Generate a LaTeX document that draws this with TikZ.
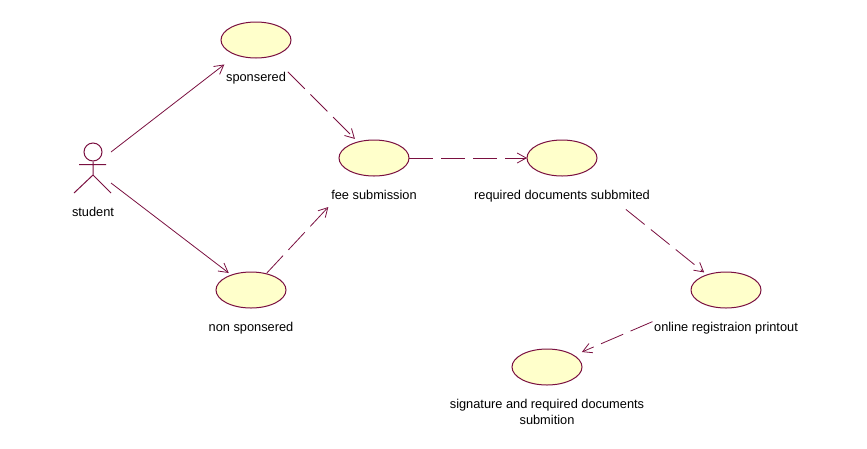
\documentclass[tikz,border=0pt]{standalone}
\usepackage{fontspec}
\setmainfont{Liberation Sans}
\usetikzlibrary{arrows.meta,positioning}
\definecolor{umlline}{RGB}{122,16,64}
\definecolor{umlfill}{RGB}{255,255,203}
\tikzset{
    usecase/.style={
           ellipse,
           draw=umlline, line width=1pt,
           fill=umlfill,
           minimum height=36pt,
           minimum width=70pt,
           inner sep=0pt
           },
    caption/.style={
           inner sep=0pt,
           align=center,
           text height=12pt,
           text depth=1pt,
           font=\fontsize{12.8}{16}\selectfont
           },
    link/.style={
           draw=umlline, line width=0.8pt, ->
           },
    dep/.style={
           link, dash pattern=on 24pt off 8pt
           },
    actorline/.style={
           draw=umlline, line width=1pt
           }
}
\usetikzlibrary{shapes.geometric}
\begin{document}
\begin{tikzpicture}[x=1pt,y=-1pt,>={Straight Barb[length=9pt,width=10pt,line width=0.8pt]},node distance=36pt,on grid]
\useasboundingbox (0,0) rectangle (867,448);
% use cases
   \node[usecase] (sponsered) at (256,40) {};
   \node[usecase] (fee) at (374,158) {};
   \node[usecase] (documents) at (562,158) {};
   \node[usecase] (nonsponsered) at (251,290) {};
   \node[usecase] (online) at (726,290) {};
   \node[usecase] (signature) at (547,367) {};
   \node[caption] (sponseredtext)[below=of sponsered] {sponsered};
   \node[caption] (feetext)[below=of fee] {fee submission};
   \node[caption] (documentstext)[below=of documents] {required documents subbmited};
   \node[caption] (nonsponseredtext)[below=of nonsponsered] {non sponsered};
   \node[caption] (onlinetext)[below=of online] {online registraion printout};
   \node[caption] (signaturetext)[below=52pt of signature] {signature and required documents\\submition};
% actor
   \node[circle, draw=umlline, line width=1pt, minimum size=18pt, inner sep=0pt] (head) at (93,152) {};
   \coordinate (armleft) at (79,164.5);
   \coordinate (armright) at (106,164.5);
   \coordinate (hip) at (93,175);
   \coordinate (footleft) at (74,193);
   \coordinate (footright) at (111,193);
   \coordinate (upperport) at (111,152);
   \coordinate (lowerport) at (111,183);
   \node[caption] (student) at (93,211) {student};
   \path[actorline]
    (armleft) -- (armright)
    (head) -- (hip)
    (hip) -- (footleft)
    (hip) -- (footright);
% connectors
   \draw[link, shorten >=40pt] (upperport) -- (sponsered.center);
   \draw[link, shorten >=28pt] (lowerport) -- (nonsponsered.center);
   \draw[dep, shorten <=45pt, shorten >=27pt] (sponsered.center) -- (fee.center);
   \draw[dep, shorten <=23pt, shorten >=67pt] (nonsponsered.center) -- (fee.center);
   \draw[dep, shorten <=35pt, shorten >=35pt] (fee.center) -- (documents.center);
   \draw[dep, shorten <=82pt, shorten >=28pt] (documents.center) -- (online.center);
   \draw[dep, shorten <=80pt, shorten >=38pt] (online.center) -- (signature.center);
\end{tikzpicture}
\end{document}
